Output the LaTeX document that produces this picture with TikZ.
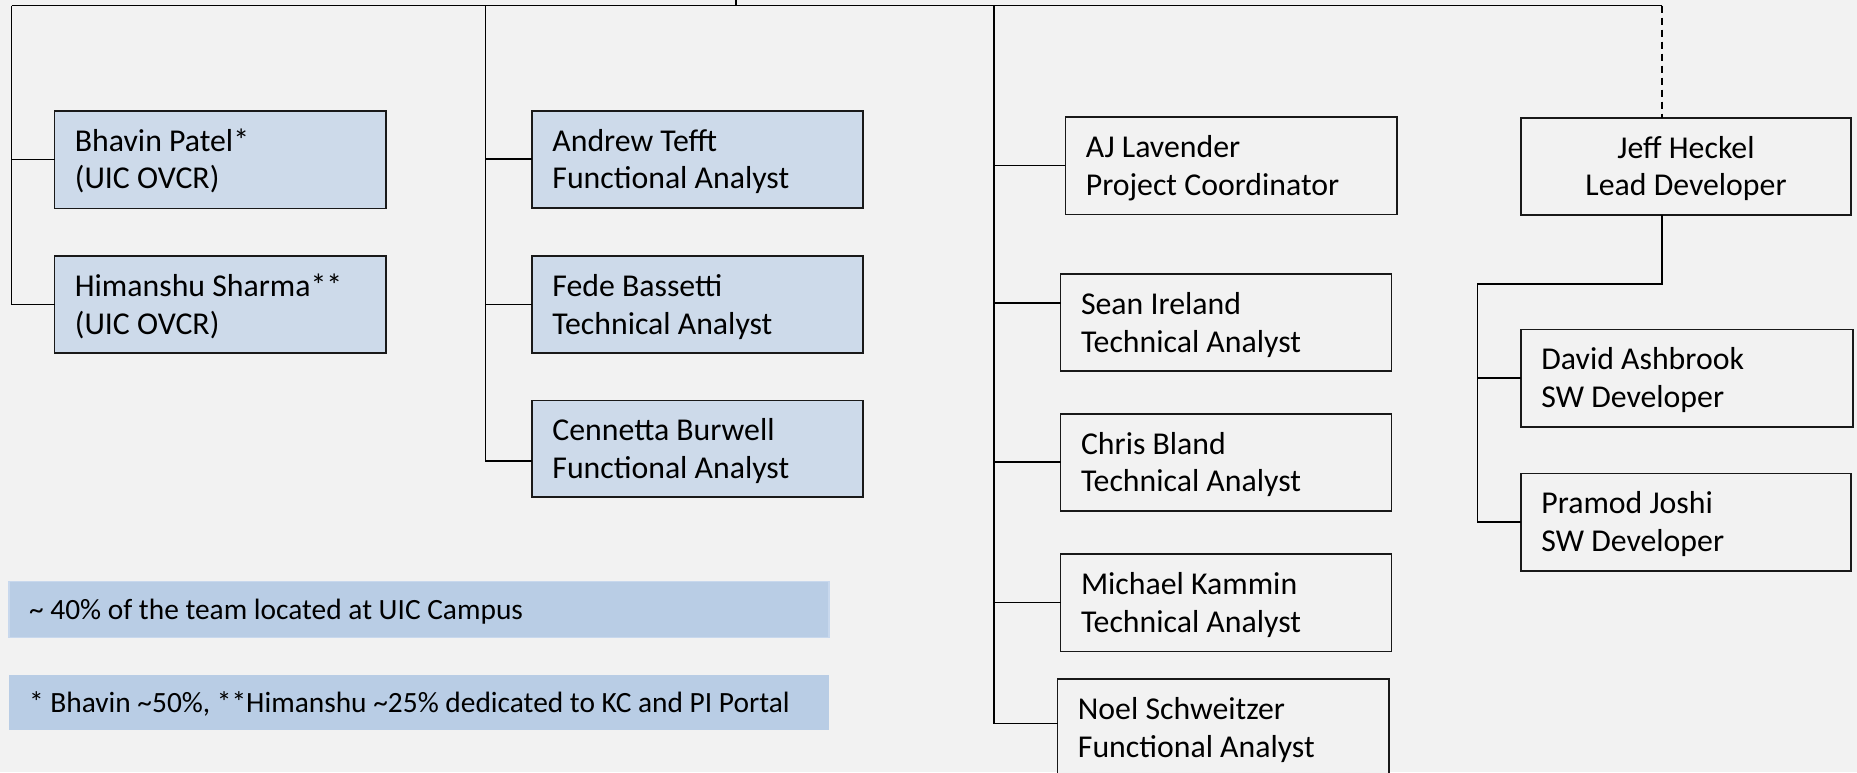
\documentclass[tikz,border=0pt]{standalone}
\usepackage{fontspec}
\setmainfont{Carlito}
\definecolor{bg}{RGB}{242,242,242}
\definecolor{pfill}{RGB}{205,218,234}
\definecolor{nfill}{RGB}{185,205,229}
\definecolor{nedge}{RGB}{200,216,237}
\tikzset{
  pbox/.style={draw=black!90, line width=0.8pt, fill=pfill, inner sep=0pt, outer sep=0pt},
  wbox/.style={pbox, fill=bg},
  ptext/.style={inner sep=0pt, font=\fontsize{15.9}{18.75}\selectfont},
  notebox/.style={fill=nfill, inner sep=0pt, outer sep=0pt},
  ntext/.style={inner sep=0pt, font=\fontsize{14.7}{17.5}\selectfont},
  conn/.style={draw=black, line width=0.8pt},
  dashconn/.style={conn, line width=0.6pt, dash pattern=on 3.5pt off 2.5pt}
}
\newcommand\personbox[8]{%
  \node[#8, anchor=north west, minimum width={(#4-#2)*0.5}, minimum height={(#5-#3)*0.5}] (#1) at (#2,#3) {};
  \node[ptext, anchor=base west] (#1-t) at (#2+20,#3+40.5) {\begin{tabular}[t]{@{}l@{}}#6\\#7\end{tabular}};
}
\begin{document}
\begin{tikzpicture}[x=0.5pt,y=-0.5pt]
\clip (0,0) rectangle (1857,772);
\fill[bg] (0,0) rectangle (1857,772);

% left column
\personbox{bhavin}{54.5}{110.7}{386}{208.3}{Bhavin Patel*}{(UIC OVCR)}{pbox}
\personbox{himanshu}{54.5}{256}{386}{352.7}{Himanshu Sharma**}{(UIC OVCR)}{pbox}
% second column
\personbox{andrew}{532}{110.7}{863}{207.7}{Andrew Tefft}{Functional Analyst}{pbox}
\personbox{fede}{532}{256}{863}{352.7}{Fede Bassetti}{Technical Analyst}{pbox}
\personbox{cennetta}{532}{400.3}{863}{496.7}{Cennetta Burwell}{Functional Analyst}{pbox}
% third column
\personbox{aj}{1065.4}{117}{1397}{214.3}{AJ Lavender}{Project Coordinator}{wbox}
\personbox{sean}{1060.6}{274}{1391.5}{370.7}{Sean Ireland}{Technical Analyst}{wbox}
\personbox{chris}{1060.6}{413.7}{1391.5}{510.7}{Chris Bland}{Technical Analyst}{wbox}
\personbox{michael}{1060.6}{554}{1391.5}{651.3}{Michael Kammin}{Technical Analyst}{wbox}
\personbox{noel}{1057.5}{679}{1389}{790}{Noel Schweitzer}{Functional Analyst}{wbox}
% right column
\node[wbox, anchor=north west, minimum width={(1851-1521)*0.5}, minimum height={(215-117.7)*0.5}] (jeff) at (1521,117.7) {};
\node[ptext, anchor=base] (jeff-t) at (1686,158.2) {\begin{tabular}[t]{@{}c@{}}Jeff Heckel\\Lead Developer\end{tabular}};
\personbox{david}{1521}{329.3}{1853}{426.7}{David Ashbrook}{SW Developer}{wbox}
\personbox{pramod}{1521}{473.3}{1851}{571}{Pramod Joshi}{SW Developer}{wbox}

% notes
\node[notebox, draw=nedge, line width=0.6pt, anchor=north west, minimum width={(829-9)*0.5}, minimum height={(637.7-581.7)*0.5}] (note1) at (9,581.7) {};
\node[ntext, anchor=base west] (note1-t) at (28.7,619.7) {\textasciitilde{} 40\% of the team located at UIC Campus};
\node[notebox, anchor=north west, minimum width={(829-9)*0.5}, minimum height={(730.3-675.3)*0.5}] (note2) at (9,675.3) {};
\node[ntext, anchor=base west] (note2-t) at (28.7,712.9) {* Bhavin \textasciitilde50\%, **Himanshu \textasciitilde25\% dedicated to KC and PI Portal};

% connectors
\coordinate (stub) at (736,0);
\coordinate (tl) at (11.5,5.5);
\coordinate (tr) at (1662,5.5);
\coordinate (s2) at (485.6,5.5);
\coordinate (s3) at (994,5.5);
\draw[conn] (stub) -- (stub |- tl);
\draw[conn] (tl) -- (tr);
\draw[conn] (tl) |- (himanshu.west);
\draw[conn] (tl |- bhavin.west) -- (bhavin.west);

\coordinate (cenin) at ([yshift=-6.25pt]cennetta.west);
\draw[conn] (s2) |- (cenin);
\draw[conn] (s2 |- andrew.west) -- (andrew.west);
\draw[conn] (s2 |- fede.west) -- (fede.west);

\coordinate (noelin) at ([yshift=-22.15pt]noel.north west);
\coordinate (seanin) at ([yshift=9.7pt]sean.west);
\draw[conn] (s3) |- (noelin);
\draw[conn] (s3 |- aj.west) -- (aj.west);
\draw[conn] (s3 |- seanin) -- (seanin);
\draw[conn] (s3 |- chris.west) -- (chris.west);
\draw[conn] (s3 |- michael.west) -- (michael.west);

\coordinate (jeffin) at ([xshift=-12pt]jeff.north);
\coordinate (jeffout) at ([xshift=-12pt]jeff.south);
\coordinate (elbow) at (1477.5,283.7);
\draw[dashconn] (tr) -- (jeffin);
\draw[conn] (jeffout) |- (elbow) -- (elbow |- pramod.west) -- (pramod.west);
\draw[conn] (elbow |- david.west) -- (david.west);
\end{tikzpicture}
\end{document}
